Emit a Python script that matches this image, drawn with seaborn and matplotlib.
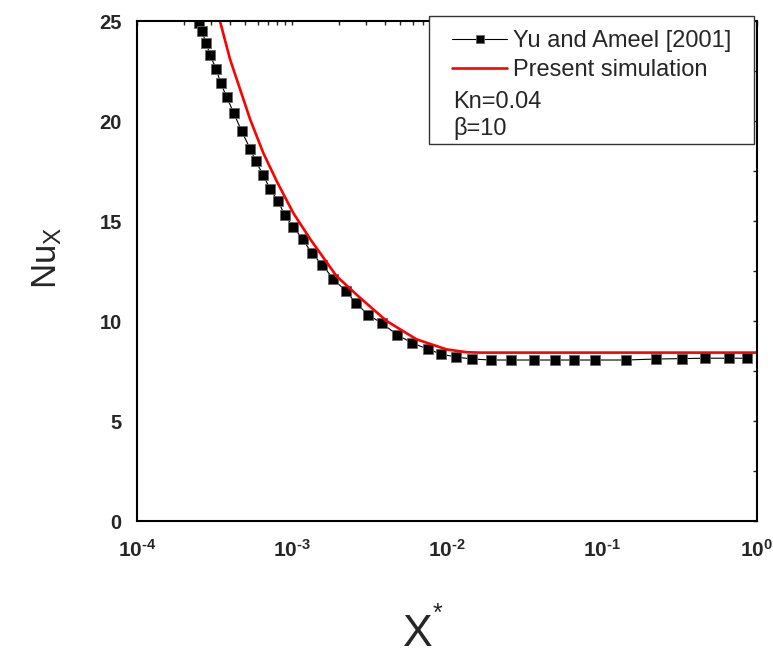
import numpy as np
import pandas as pd
import matplotlib
matplotlib.use("Agg")
import matplotlib.pyplot as plt
from matplotlib.patches import Rectangle
from matplotlib.ticker import LogLocator, MultipleLocator, NullFormatter
import seaborn as sns

# Yu and Ameel [2001] reference values
yu_x = [2.52e-4, 2.61e-4, 2.80e-4, 2.96e-4, 3.24e-4, 3.47e-4, 3.79e-4, 4.21e-4,
        4.73e-4, 5.38e-4, 5.83e-4, 6.53e-4, 7.21e-4, 8.13e-4, 8.97e-4, 1.02e-3,
        1.17e-3, 1.34e-3, 1.57e-3, 1.85e-3, 2.22e-3, 2.59e-3, 3.10e-3, 3.79e-3,
        4.78e-3, 5.97e-3, 7.50e-3, 9.14e-3, 1.14e-2, 1.45e-2, 1.92e-2, 2.58e-2,
        3.66e-2, 4.98e-2, 6.59e-2, 9.02e-2, 0.142, 0.224, 0.330, 0.462, 0.656, 0.867]
yu_nu = [24.9, 24.5, 23.9, 23.3, 22.6, 21.9, 21.2, 20.4,
         19.5, 18.6, 18.0, 17.3, 16.6, 16.0, 15.3, 14.7,
         14.1, 13.4, 12.8, 12.1, 11.5, 10.9, 10.3, 9.9,
         9.3, 8.9, 8.6, 8.35, 8.2, 8.1, 8.05, 8.05,
         8.05, 8.05, 8.05, 8.05, 8.05, 8.1, 8.12, 8.14, 8.14, 8.14]

# present simulation
sim_x = [3.43e-4, 3.98e-4, 4.62e-4, 5.36e-4, 6.53e-4, 7.96e-4, 1.02e-3, 1.31e-3,
         1.94e-3, 2.75e-3, 4.08e-3, 6.37e-3, 9.95e-3, 1.34e-2, 1.63e-2, 5.0e-2,
         0.2, 1.0]
sim_nu = [25.0, 23.1, 21.6, 20.1, 18.4, 17.0, 15.4, 14.1,
          12.24, 11.16, 10.0, 9.08, 8.58, 8.44, 8.42, 8.42,
          8.42, 8.42]

x_ticks = [1e-4, 1e-3, 1e-2, 1e-1, 1e0]
y_ticks = [0, 5, 10, 15, 20, 25]

sns.set_style("white")
plt.rcParams["font.family"] = ["Liberation Sans", "DejaVu Sans"]
plt.rcParams["mathtext.fontset"] = "custom"
plt.rcParams["mathtext.rm"] = "Liberation Sans"
plt.rcParams["mathtext.it"] = "Liberation Sans"
plt.rcParams["mathtext.bf"] = "Liberation Sans:bold"

yu = pd.DataFrame({"x": yu_x, "nu": yu_nu})
sim = pd.DataFrame({"x": sim_x, "nu": sim_nu})

fig = plt.figure(figsize=(7.73, 6.57), dpi=100)
ax = fig.add_axes([0.1772, 0.207, 0.8021, 0.761])

sns.lineplot(data=yu, x="x", y="nu", ax=ax, color="black", linewidth=0.8,
             marker="s", markersize=7, markeredgecolor="#666666",
             markeredgewidth=0.6,
             estimator=None, sort=True, label="Yu and Ameel [2001]", legend=False)
sns.lineplot(data=sim, x="x", y="nu", ax=ax, color="#ff0000", linewidth=1.9,
             estimator=None, sort=True, label="Present simulation", legend=False)

ax.set_xscale("log")
ax.set_xlim(1e-4, 1e0)
ax.set_ylim(0, 25)


def decade_label(v):
    e = int(round(np.log10(v)))
    sign = "\u2010" if e < 0 else ""
    return "$\\mathbf{10^{%s%d}}$" % (sign, abs(e))


ax.set_xticks(x_ticks)
ax.set_xticklabels([decade_label(v) for v in x_ticks], fontsize=15)
ax.xaxis.set_minor_locator(LogLocator(base=10, subs=np.arange(2, 10), numticks=20))
ax.xaxis.set_minor_formatter(NullFormatter())
ax.set_yticks(y_ticks)
ax.set_yticklabels([str(v) for v in y_ticks], fontsize=14.5, fontweight="bold")
ax.yaxis.set_minor_locator(MultipleLocator(2.5))

for s in ax.spines.values():
    s.set_visible(True)
    s.set_color("black")
    s.set_linewidth(1.5)

ax.tick_params(axis="both", which="major", direction="out", length=7, width=1.4,
               color="black", pad=4)
ax.tick_params(axis="both", which="minor", direction="out", length=3, width=1.2,
               color="black")
ax.tick_params(axis="x", which="major", pad=6)

# mirrored inward ticks on the top and right edges
top = ax.secondary_xaxis("top")
top.set_xticks(x_ticks)
top.xaxis.set_minor_locator(LogLocator(base=10, subs=np.arange(2, 10), numticks=20))
top.tick_params(which="both", direction="in", length=3, width=1.0, labeltop=False)
top.xaxis.set_minor_formatter(NullFormatter())
top.spines["top"].set_visible(False)
right = ax.secondary_yaxis("right")
right.set_yticks(y_ticks)
right.yaxis.set_minor_locator(MultipleLocator(2.5))
right.tick_params(which="both", direction="in", length=3, width=1.0, labelright=False)
right.spines["right"].set_visible(False)

ax.set_xlabel("")
ax.set_ylabel(r"$\mathregular{Nu_{X}}$", fontsize=25)
ax.yaxis.set_label_coords(-0.118, 0.526)
fig.text(0.541, 0.003, "X", fontsize=32, ha="center", va="bottom")
fig.text(0.566, 0.055, "*", fontsize=18, ha="center", va="baseline")

# legend box with the two series plus the run parameters
frame = Rectangle((429 / 773, 1 - 144 / 657), (754 - 429) / 773, (144 - 16) / 657,
                  transform=fig.transFigure, facecolor="white", edgecolor="#333333",
                  linewidth=1.0, zorder=10)
fig.patches.append(frame)
handles, labels = ax.get_legend_handles_labels()
leg = fig.legend(handles, labels, loc="upper left",
                 bbox_to_anchor=(452 / 773, 1 - 30 / 657), frameon=False,
                 fontsize=17, handlelength=2.33, handletextpad=0.25,
                 labelspacing=0.3, borderpad=0, borderaxespad=0, markerscale=0.85)
leg.set_zorder(11)
fig.text(453 / 773, 1 - 108 / 657, "Kn=0.04", fontsize=17, ha="left",
         va="baseline", zorder=11)
fig.text(453 / 773, 1 - 135 / 657, "\u03b2=10", fontsize=17, ha="left",
         va="baseline", zorder=11)

fig.savefig("out.png", dpi=100)
